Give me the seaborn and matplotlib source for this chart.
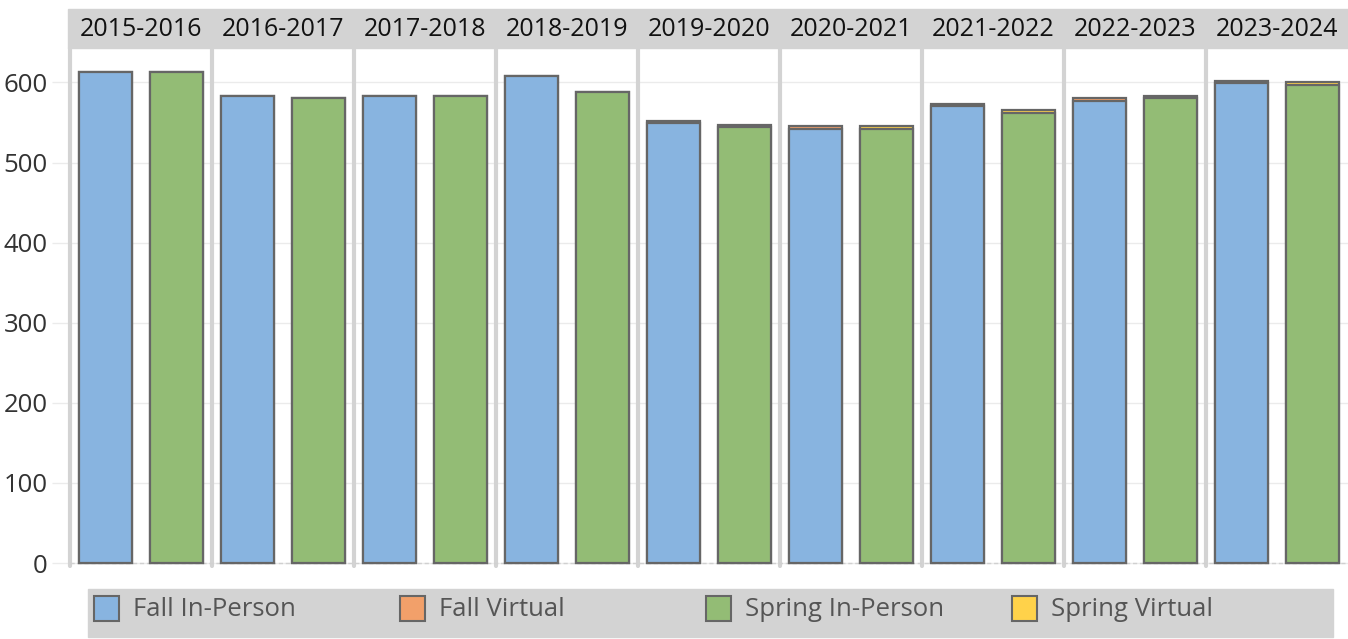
import matplotlib
matplotlib.use("Agg")
import matplotlib.pyplot as plt
import matplotlib.transforms as mtransforms
from matplotlib.patches import Rectangle
import seaborn as sns
import pandas as pd

# ---------------- data ----------------
years = ["2015-2016", "2016-2017", "2017-2018", "2018-2019", "2019-2020",
         "2020-2021", "2021-2022", "2022-2023", "2023-2024"]
fall_in_person = [613, 583, 583, 608, 549, 542, 570, 577, 599]
fall_virtual = [0, 0, 0, 0, 3, 3, 3, 3, 3]
spring_in_person = [613, 580, 583, 588, 544, 542, 562, 580, 597]
spring_virtual = [0, 0, 0, 0, 3, 3, 3, 3, 3]
legend_labels = ["Fall In-Person", "Fall Virtual", "Spring In-Person", "Spring Virtual"]
y_ticks = [0, 100, 200, 300, 400, 500, 600]

colors = {"Fall In-Person": "#88b4e0", "Fall Virtual": "#f2a06a",
          "Spring In-Person": "#93bc75", "Spring Virtual": "#ffd24a"}

rows = []
for i, y in enumerate(years):
    rows.append(dict(slot=f"{y} Fall", year=y, term="Fall",
                     inperson=fall_in_person[i], virtual=fall_virtual[i]))
    rows.append(dict(slot=f"{y} Spring", year=y, term="Spring",
                     inperson=spring_in_person[i], virtual=spring_virtual[i]))
df = pd.DataFrame(rows)
df["total"] = df["inperson"] + df["virtual"]
order = list(df["slot"])

# ---------------- figure ----------------
sns.set_style("white")
plt.rcParams["font.family"] = ["Open Sans", "DejaVu Sans"]

W, H = 1348, 639
fig = plt.figure(figsize=(W / 100, H / 100), dpi=100)

# header band and legend band (behind everything)
fig.patches.append(Rectangle((68 / W, 1 - 48 / H), 1280 / W, 39 / H,
                             transform=fig.transFigure, color="#d3d3d3", zorder=-2))
fig.patches.append(Rectangle((88 / W, 1 - 637 / H), (1333 - 88) / W, 48 / H,
                             transform=fig.transFigure, color="#d3d3d3", zorder=-2))

ax = fig.add_axes([70 / W, 1 - 566 / H, 1278 / W, (566 - 48) / H])
ax.patch.set_alpha(0)

edge = "#666666"
sns.barplot(data=df, x="slot", y="total", hue="term", order=order,
            palette={"Fall": colors["Fall Virtual"], "Spring": colors["Spring Virtual"]},
            dodge=False, width=0.76, saturation=1, edgecolor=edge, linewidth=1.6,
            legend=False, ax=ax, zorder=3)
sns.barplot(data=df, x="slot", y="inperson", hue="term", order=order,
            palette={"Fall": colors["Fall In-Person"], "Spring": colors["Spring In-Person"]},
            dodge=False, width=0.76, saturation=1, edgecolor=edge, linewidth=1.6,
            legend=False, ax=ax, zorder=4)

ax.set_xlim(-0.5, len(order) - 0.5)
ax.set_ylim(-3.7, 643)
ax.set_xlabel("")
ax.set_ylabel("")
ax.set_xticks([])
ax.set_yticks(y_ticks)
ax.set_yticklabels([str(t) for t in y_ticks], fontsize=18.5, color="#333333")
ax.tick_params(axis="y", length=13, color="#ebebeb", width=1, pad=3, left=True)
for s in ax.spines.values():
    s.set_visible(False)
ax.yaxis.grid(True, color="#ebebeb", linewidth=1, zorder=0)
ax.set_axisbelow(True)
ax.axhline(0, color="#d0d0d0", linewidth=1, linestyle=(0, (3, 2)), zorder=2)

# panel separators
for i in range(len(years)):
    ax.axvline(-0.5 + 2 * i, color="#d3d3d3", linewidth=3, zorder=1, clip_on=False)

# header labels
trans = mtransforms.blended_transform_factory(ax.transData, fig.transFigure)
for i, y in enumerate(years):
    fig.text(2 * i + 0.5, 1 - 29 / H, y, transform=trans, ha="center", va="center",
             fontsize=18, color="#111111", zorder=5)

# legend
sq_x = [94, 400, 706, 1012]
for x0, lab in zip(sq_x, legend_labels):
    fig.patches.append(Rectangle((x0 / W, 1 - 621 / H), 25 / W, 25 / H,
                                 transform=fig.transFigure, facecolor=colors[lab],
                                 edgecolor=edge, linewidth=1.5, zorder=2))
    fig.text((x0 + 39) / W, 1 - 610 / H, lab, ha="left", va="center",
             fontsize=18.5, color="#555555", zorder=5)

fig.savefig("out.png", dpi=100)
